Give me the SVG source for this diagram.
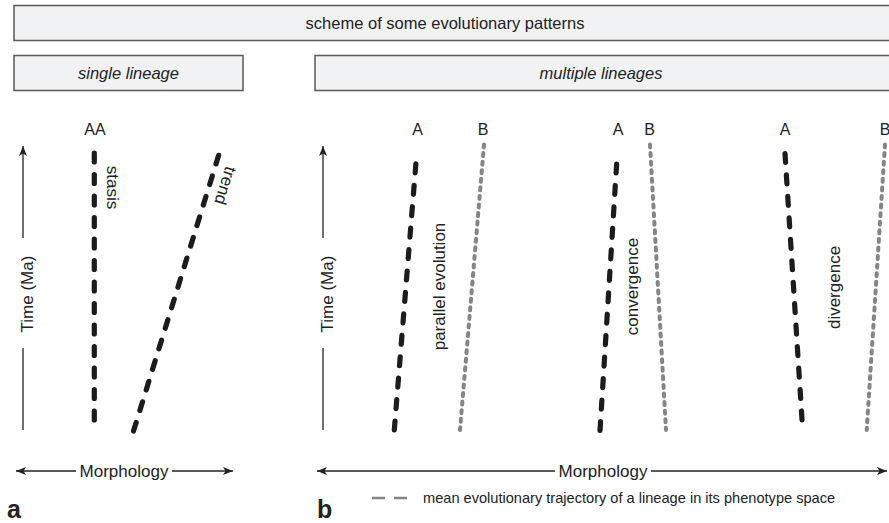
<svg xmlns="http://www.w3.org/2000/svg" width="889" height="523" viewBox="0 0 889 523">
<defs>
<style>
text{font-family:"Liberation Sans",Arial,sans-serif;fill:#222;}
.box{fill:#f1f2f4;stroke:#5a5a5a;stroke-width:1.5;}
.hdr{font-size:16.5px;text-anchor:middle;}
.it{font-style:italic;}
.lbl{font-size:17px;text-anchor:middle;}
.axis{stroke:#222;stroke-width:1.3;fill:none;}
.blk{stroke:#1c1c1c;stroke-width:5.2;stroke-linecap:round;stroke-dasharray:9 12.5;fill:none;}
.gry{stroke:#858585;stroke-width:4;stroke-linecap:round;stroke-dasharray:3 5.6;fill:none;}
</style>
<marker id="ah" viewBox="0 0 10 8" markerWidth="10" markerHeight="8" refX="10" refY="4" orient="auto-start-reverse" markerUnits="userSpaceOnUse">
<path d="M0,0 L10,4 L0,8 L2.5,4 Z" fill="#222"/>
</marker>
</defs>
<rect width="889" height="523" fill="#fff"/>

<g id="title">
<rect class="box" x="14" y="5.5" width="885" height="35"/>
<text class="hdr" x="445" y="29">scheme of some evolutionary patterns</text>
</g>
<g id="single-lineage">
<rect class="box" x="14" y="55.5" width="229" height="35"/>
<text class="hdr it" x="128.5" y="79">single lineage</text>
</g>
<g id="multiple-lineages">
<rect class="box" x="315" y="55.5" width="585" height="35"/>
<text class="hdr it" x="601" y="79">multiple lineages</text>
</g>

<g id="connectors">
<path class="axis" d="M23,238 L23,146" marker-end="url(#ah)"/>
<path class="axis" d="M23,348 L23,430"/>
<path class="axis" d="M323,238 L323,146" marker-end="url(#ah)"/>
<path class="axis" d="M323,348 L323,430"/>
<path class="axis" d="M76,471 L16,471" marker-end="url(#ah)"/>
<path class="axis" d="M172,471 L233,471" marker-end="url(#ah)"/>
<path class="axis" d="M555,471 L317,471" marker-end="url(#ah)"/>
<path class="axis" d="M651,471 L887,471" marker-end="url(#ah)"/>
</g>

<g id="axis-labels">
<text class="lbl" transform="translate(33,294) rotate(-90)">Time (Ma)</text>
<text class="lbl" transform="translate(333,294) rotate(-90)">Time (Ma)</text>
<text class="lbl" x="124" y="477">Morphology</text>
<text class="lbl" x="603" y="477">Morphology</text>
</g>

<g id="stasis">
<path class="blk" d="M94.3,153 L94.3,431"/>
<text class="lbl" x="95" y="135" style="font-size:16px">AA</text>
<text class="lbl" transform="translate(107,187.5) rotate(90)">stasis</text>
</g>
<g id="trend">
<path class="blk" d="M133.5,431 L221.7,145.5"/>
<text class="lbl" transform="translate(220,184) rotate(107)">trend</text>
</g>

<g id="parallel-evolution">
<path class="blk" d="M394.3,430 L416.7,153.5"/>
<path class="gry" d="M484,144.5 L460,430"/>
<text class="lbl" x="417.5" y="135" style="font-size:16px">A</text>
<text class="lbl" x="483" y="135" style="font-size:16px">B</text>
<text class="lbl" transform="translate(444.5,286.5) rotate(-90)">parallel evolution</text>
</g>
<g id="convergence">
<path class="blk" d="M600,430.5 L617.3,153.5"/>
<path class="gry" d="M650,144.5 L666,430"/>
<text class="lbl" x="618" y="135" style="font-size:16px">A</text>
<text class="lbl" x="649.5" y="135" style="font-size:16px">B</text>
<text class="lbl" transform="translate(638,286.5) rotate(-90)">convergence</text>
</g>
<g id="divergence">
<path class="blk" d="M785,153.5 L802.7,430.5"/>
<path class="gry" d="M885,144.5 L866.7,430"/>
<text class="lbl" x="785" y="135" style="font-size:16px">A</text>
<text class="lbl" x="885" y="135" style="font-size:16px">B</text>
<text class="lbl" transform="translate(840,287.5) rotate(-90)">divergence</text>
</g>

<g id="legend">
<path d="M372,498 L408,498" style="stroke:#858585;stroke-width:2.6;stroke-dasharray:13 9;fill:none"/>
<text x="423" y="502.5" style="font-size:14.6px">mean evolutionary trajectory of a lineage in its phenotype space</text>
</g>

<g id="panel-letters">
<text x="7" y="518" style="font-size:25px;font-weight:bold">a</text>
<text x="317" y="518" style="font-size:25px;font-weight:bold">b</text>
</g>
</svg>
